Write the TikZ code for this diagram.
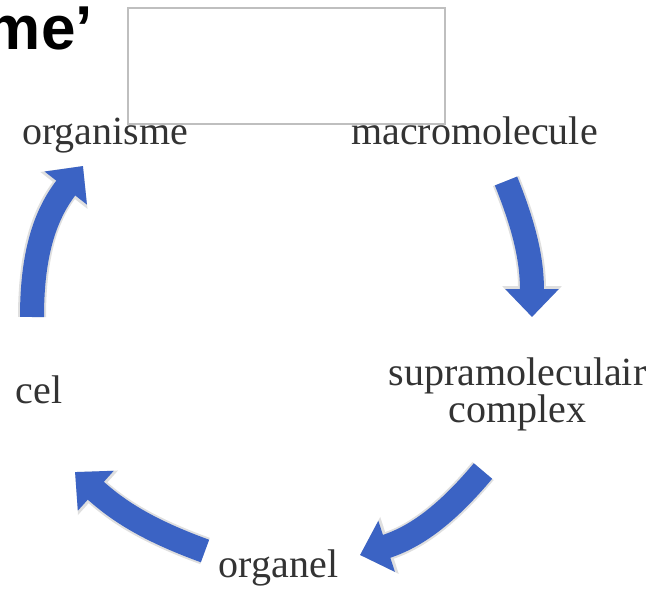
\documentclass[tikz,border=0pt]{standalone}
\usepackage{fontspec}
\setmainfont{Liberation Serif}
\newfontfamily\titlefont{Liberation Sans}
\usetikzlibrary{arrows.meta,positioning}
\definecolor{cycleblue}{RGB}{59,99,196}
\tikzset{
  level/.style={inner sep=0pt, text=black!80, font=\fontsize{40}{37}\selectfont},
  cyc/.style={line width=24pt, draw=cycleblue, -{Triangle[width=52pt,length=28pt]},
    preaction={draw=gray!25, line width=28pt, -{Triangle[width=58pt,length=31pt]}}},
}

\begin{document}
\begin{tikzpicture}[x=1pt,y=1pt]
  \useasboundingbox (0,0) rectangle (653,590);
  % title, cut off at the left
  \node[inner sep=0pt, anchor=base east, font=\titlefont\bfseries\fontsize{62}{62}\selectfont] (title) at (93,540) {me’};
  \node[draw=gray!50, line width=1.5pt, minimum width=317pt, minimum height=116pt, inner sep=0pt] (box) at (286.5,524) {};

  % levels
  \node[level, anchor=base] (organisme) at (105,445) {organisme};
  \node[level, anchor=base] (macro) at (474.5,445) {macromolecule};
  \node[level, align=center] (supra) at (517.5,195.8) {supramoleculair\\complex};
  \node[level, anchor=base] (organel) at (278.5,13) {organel};
  \node[level, anchor=base] (cel) at (39,187) {cel};

  % cycle arrows
  \draw[cyc] ([shift={(31.5,-36)}]macro.base) to[out=-68,in=90] ([shift={(14.5,77.2)}]supra.center);
  \draw[cyc] ([shift={(-34.5,-76.8)}]supra.center) to[out=230,in=18] ([shift={(81.5,22)}]organel.base);
  \draw[cyc] ([shift={(-73.5,26)}]organel.base) to[out=160,in=-42] ([shift={(36,-69)}]cel.base);
  \draw[cyc] ([shift={(-7,86)}]cel.base) to[out=90,in=232] ([shift={(-22,-21)}]organisme.base);
\end{tikzpicture}
\end{document}
